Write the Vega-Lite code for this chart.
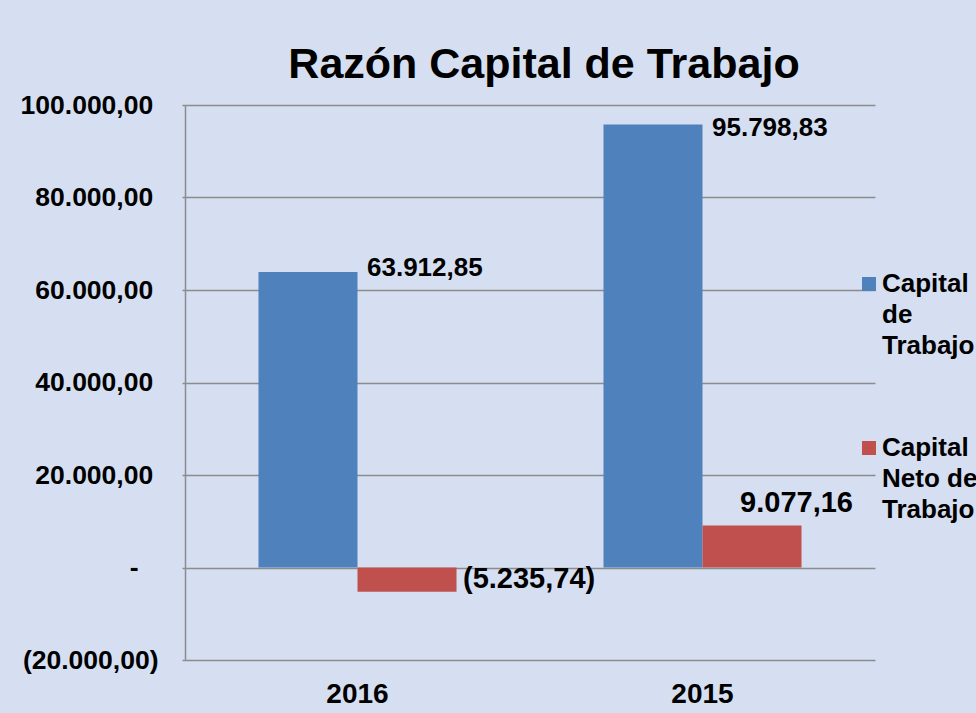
{
  "$schema": "https://vega.github.io/schema/vega-lite/v6.json",
  "width": 690,
  "height": 555,
  "autosize": {"type": "none"},
  "padding": {"left": 185, "top": 105, "right": 101, "bottom": 53},
  "background": "#d5dff1",
  "title": {
    "text": "Razón Capital de Trabajo",
    "font": "Liberation Sans",
    "fontSize": 43,
    "fontWeight": "bold",
    "color": "#000000",
    "anchor": "middle",
    "frame": "group",
    "dx": 14,
    "offset": 5
  },
  "config": {
    "locale": {"number": {"decimal": ",", "thousands": ".", "grouping": [3], "currency": ["", ""]}},
    "view": {"stroke": null},
    "font": "Liberation Sans"
  },
  "data": {
    "values": [
      {"anio": "2016", "serie": "Capital de Trabajo", "valor": 63912.85},
      {"anio": "2016", "serie": "Capital Neto de Trabajo", "valor": -5235.74},
      {"anio": "2015", "serie": "Capital de Trabajo", "valor": 95798.83},
      {"anio": "2015", "serie": "Capital Neto de Trabajo", "valor": 9077.16}
    ]
  },
  "encoding": {
    "x": {
      "field": "anio",
      "type": "nominal",
      "sort": ["2016", "2015"],
      "scale": {"paddingInner": 0.426, "paddingOuter": 0.213},
      "axis": {
        "title": null,
        "labelAngle": 0,
        "labelFont": "Liberation Sans",
        "labelFontSize": 28,
        "labelFontWeight": "bold",
        "labelColor": "#000000",
        "labelPadding": 20,
        "ticks": false,
        "domain": false,
        "grid": false
      }
    },
    "xOffset": {
      "field": "serie",
      "type": "nominal",
      "sort": ["Capital de Trabajo", "Capital Neto de Trabajo"],
      "scale": {"paddingInner": 0, "paddingOuter": 0}
    },
    "y": {
      "field": "valor",
      "type": "quantitative",
      "scale": {"domain": [-20000, 100000], "nice": false, "zero": false},
      "axis": {
        "title": null,
        "values": [-20000, 0, 20000, 40000, 60000, 80000, 100000],
        "format": "(,.2f",
        "labelExpr": "datum.value == 0 ? '-\u00a0\u00a0\u2009\u200b' : (datum.value > 0 ? datum.label + '\u2009\u200b' : datum.label)",
        "labelFont": "Liberation Sans",
        "labelFontSize": 26.5,
        "labelFontWeight": "bold",
        "labelColor": "#000000",
        "labelPadding": 24,
        "grid": true,
        "gridColor": "#8c8c8c",
        "gridWidth": 1.5,
        "domain": true,
        "domainColor": "#8c8c8c",
        "domainWidth": 1.5,
        "ticks": true,
        "tickSize": 3,
        "tickColor": "#8c8c8c",
        "tickWidth": 1.5
      }
    }
  },
  "layer": [
    {
      "mark": {"type": "bar"},
      "encoding": {
        "color": {
          "field": "serie",
          "type": "nominal",
          "sort": ["Capital de Trabajo", "Capital Neto de Trabajo"],
          "scale": {"range": ["#4f81bd", "#c0504d"]},
          "legend": {
            "title": null,
            "orient": "none",
            "legendX": 671,
            "legendY": 166,
            "padding": 0,
            "symbolType": "square",
            "symbolSize": 196,
            "symbolStrokeWidth": 0,
            "labelFont": "Liberation Sans",
            "labelFontSize": 26,
            "labelFontWeight": "bold",
            "labelColor": "#000000",
            "labelLimit": 0,
            "labelOffset": 0,
            "rowPadding": 76,
            "labelExpr": "datum.label == 'Capital de Trabajo' ? ['Capital', 'de', 'Trabajo'] : ['Capital', 'Neto de', 'Trabajo']",
            "encode": {"labels": {"update": {"lineHeight": {"value": 31}}}}
          }
        }
      }
    },
    {
      "transform": [{"filter": "datum.anio == '2016' && datum.valor > 0"}],
      "mark": {"type": "text", "align": "left", "baseline": "middle", "dx": 59, "dy": -4, "font": "Liberation Sans", "fontSize": 26, "fontWeight": "bold", "color": "#000000"},
      "encoding": {"text": {"field": "valor", "type": "quantitative", "format": "(,.2f"}}
    },
    {
      "transform": [{"filter": "datum.anio == '2015' && datum.valor > 50000"}],
      "mark": {"type": "text", "align": "left", "baseline": "middle", "dx": 59, "dy": 4, "font": "Liberation Sans", "fontSize": 26, "fontWeight": "bold", "color": "#000000"},
      "encoding": {"text": {"field": "valor", "type": "quantitative", "format": "(,.2f"}}
    },
    {
      "transform": [{"filter": "datum.valor < 0"}],
      "mark": {"type": "text", "align": "left", "baseline": "middle", "dx": 56, "dy": -13, "font": "Liberation Sans", "fontSize": 29, "fontWeight": "bold", "color": "#000000"},
      "encoding": {"text": {"field": "valor", "type": "quantitative", "format": "(,.2f"}}
    },
    {
      "transform": [{"filter": "datum.anio == '2015' && datum.valor < 50000"}],
      "mark": {"type": "text", "align": "right", "baseline": "middle", "dx": 101, "dy": -23, "font": "Liberation Sans", "fontSize": 29, "fontWeight": "bold", "color": "#000000"},
      "encoding": {"text": {"field": "valor", "type": "quantitative", "format": "(,.2f"}}
    }
  ]
}
